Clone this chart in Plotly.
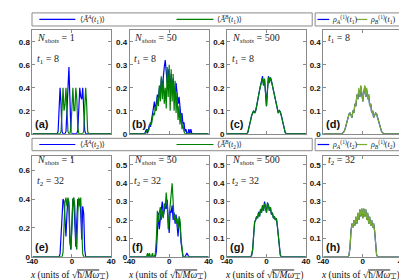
import plotly.graph_objects as go

W, H = 407, 280

# common x grid (units of sqrt(hbar/M w_perp)); values given for x = -26..26, zero at the +-40 ends
X_INNER = list(range(-26, 27))
X_GRID = [-40] + X_INNER + [40]

# ---------------- t1 = 8 ----------------
# (a) N_shots = 1
a_A = [0, 0, 0, 0, 0, 0, 0, 0, 0, 0, 0, 0, 0.02,
       0.25, 0.40, 0.25, 0.02, 0, 0, 0, 0.02, 0.20, 0.50, 0.58, 0.30, 0.03,
       0, 0, 0, 0, 0, 0, 0.03, 0.25, 0.40, 0.32, 0.30, 0.40, 0.25,
       0.03, 0, 0, 0, 0, 0, 0, 0, 0, 0, 0, 0, 0, 0]
a_B = [0, 0, 0, 0, 0, 0, 0, 0, 0, 0, 0, 0, 0,
       0, 0, 0.02, 0.25, 0.40, 0.20, 0.25, 0.40, 0.20, 0.02, 0, 0, 0.05,
       0.30, 0.40, 0.20, 0.20, 0.40, 0.30, 0.05, 0, 0, 0, 0, 0, 0.02,
       0.20, 0.40, 0.25, 0.02, 0, 0, 0, 0, 0, 0, 0, 0, 0, 0]
# (b) N_shots = 50
b_A = [0, 0, 0.01, 0.02, 0.0, 0.02, 0.04, 0.03, 0.06, 0.09, 0.12, 0.14, 0.10,
       0.13, 0.17, 0.15, 0.20, 0.18, 0.24, 0.20, 0.26, 0.29, 0.32, 0.27, 0.22, 0.28,
       0.24, 0.20, 0.26, 0.18, 0.24, 0.21, 0.16, 0.22, 0.18, 0.13, 0.16, 0.10, 0.07,
       0.09, 0.04, 0.05, 0.01, 0.02, 0.0, 0.0, 0.02, 0.0, 0.02, 0.0, 0, 0, 0]
b_B = [0, 0, 0, 0.01, 0.02, 0.01, 0.03, 0.05, 0.04, 0.07, 0.09, 0.08, 0.12,
       0.10, 0.16, 0.12, 0.21, 0.14, 0.25, 0.15, 0.24, 0.13, 0.20, 0.11, 0.29, 0.16,
       0.30, 0.10, 0.28, 0.14, 0.26, 0.10, 0.23, 0.09, 0.18, 0.06, 0.12, 0.04, 0.09,
       0.02, 0.04, 0.01, 0, 0, 0, 0, 0, 0, 0, 0, 0, 0, 0]
# (c) N_shots = 500
c_A = [0, 0, 0, 0, 0, 0, 0, 0.005, 0.02, 0.04, 0.06, 0.08, 0.095,
       0.10, 0.09, 0.10, 0.12, 0.15, 0.17, 0.19, 0.21, 0.23, 0.25, 0.21, 0.235, 0.18,
       0.12, 0.19, 0.25, 0.225, 0.245, 0.23, 0.21, 0.19, 0.17, 0.15, 0.12, 0.10, 0.09,
       0.10, 0.095, 0.08, 0.06, 0.04, 0.02, 0.005, 0, 0, 0, 0, 0, 0, 0]
c_B = [0, 0, 0, 0, 0, 0, 0, 0.005, 0.02, 0.04, 0.06, 0.08, 0.095,
       0.10, 0.09, 0.10, 0.12, 0.15, 0.17, 0.19, 0.21, 0.23, 0.24, 0.21, 0.24, 0.18,
       0.12, 0.19, 0.245, 0.22, 0.245, 0.23, 0.21, 0.19, 0.17, 0.15, 0.12, 0.10, 0.09,
       0.10, 0.095, 0.08, 0.06, 0.04, 0.02, 0.005, 0, 0, 0, 0, 0, 0, 0]
# (d) one-body densities
d_rhoA = [0, 0, 0, 0, 0, 0, 0.005, 0.01, 0.02, 0.04, 0.06, 0.07, 0.085,
          0.09, 0.08, 0.07, 0.10, 0.09, 0.13, 0.12, 0.17, 0.15, 0.19, 0.16, 0.205, 0.17,
          0.14, 0.18, 0.205, 0.16, 0.19, 0.15, 0.17, 0.12, 0.13, 0.09, 0.10, 0.07, 0.08,
          0.09, 0.085, 0.07, 0.06, 0.04, 0.02, 0.01, 0.005, 0, 0, 0, 0, 0, 0]
d_rhoB = [0, 0, 0, 0, 0, 0, 0.005, 0.01, 0.02, 0.04, 0.06, 0.07, 0.085,
          0.09, 0.08, 0.07, 0.10, 0.09, 0.13, 0.12, 0.17, 0.15, 0.20, 0.16, 0.21, 0.17,
          0.14, 0.18, 0.21, 0.16, 0.20, 0.15, 0.17, 0.12, 0.13, 0.09, 0.10, 0.07, 0.08,
          0.09, 0.085, 0.07, 0.06, 0.04, 0.02, 0.01, 0.005, 0, 0, 0, 0, 0, 0]

# ---------------- t2 = 32 ----------------
# (e) N_shots = 1
e_A = [0, 0, 0, 0, 0, 0, 0, 0, 0, 0, 0, 0, 0,
       0, 0.02, 0.15, 0.35, 0.40, 0.38, 0.25, 0.14, 0.30, 0.40, 0.35, 0.10, 0.05,
       0.30, 0.40, 0.38, 0.20, 0.07, 0.25, 0.40, 0.38, 0.40, 0.30, 0.12, 0.35, 0.30,
       0.05, 0, 0, 0, 0, 0, 0, 0, 0, 0, 0, 0, 0, 0]
e_B = [0, 0, 0, 0, 0, 0, 0, 0, 0, 0, 0, 0, 0,
       0, 0, 0, 0, 0.03, 0.20, 0.38, 0.41, 0.35, 0.41, 0.38, 0.15, 0.05,
       0.20, 0.40, 0.41, 0.35, 0.10, 0.05, 0.30, 0.41, 0.35, 0.41, 0.20, 0.02, 0,
       0, 0, 0, 0, 0, 0, 0, 0, 0, 0, 0, 0, 0, 0]
# (f) N_shots = 50
f_A = [0, 0, 0, 0, 0, 0, 0, 0, 0, 0, 0, 0, 0,
       0.03, 0.18, 0.24, 0.15, 0.22, 0.26, 0.30, 0.22, 0.25, 0.28, 0.26, 0.31, 0.20,
       0.13, 0.25, 0.24, 0.28, 0.20, 0.24, 0.18, 0.23, 0.16, 0.11, 0.20, 0.18, 0.08,
       0.02, 0, 0, 0, 0.01, 0.02, 0.01, 0, 0, 0, 0, 0, 0, 0]
f_B = [0, 0, 0, 0, 0.02, 0, 0.02, 0, 0, 0.02, 0, 0, 0.02,
       0.10, 0.25, 0.19, 0.24, 0.27, 0.20, 0.25, 0.21, 0.29, 0.27, 0.35, 0.28, 0.15,
       0.22, 0.30, 0.36, 0.40, 0.30, 0.20, 0.23, 0.18, 0.21, 0.15, 0.22, 0.20, 0.10,
       0.03, 0, 0, 0, 0, 0, 0, 0, 0, 0, 0, 0, 0, 0]
# (g) N_shots = 500
g_A = [0, 0, 0, 0, 0, 0, 0, 0, 0, 0, 0, 0.01, 0.04,
       0.12, 0.19, 0.20, 0.22, 0.21, 0.245, 0.22, 0.26, 0.24, 0.28, 0.25, 0.30, 0.27,
       0.24, 0.295, 0.28, 0.25, 0.27, 0.23, 0.24, 0.21, 0.22, 0.20, 0.21, 0.17, 0.12,
       0.04, 0.01, 0, 0, 0, 0, 0, 0, 0, 0, 0, 0, 0, 0]
g_B = [0, 0, 0, 0, 0, 0, 0, 0, 0, 0, 0, 0.01, 0.04,
       0.12, 0.19, 0.20, 0.22, 0.21, 0.24, 0.22, 0.26, 0.24, 0.28, 0.25, 0.29, 0.27,
       0.24, 0.29, 0.28, 0.25, 0.27, 0.23, 0.24, 0.21, 0.22, 0.20, 0.21, 0.17, 0.12,
       0.04, 0.01, 0, 0, 0, 0, 0, 0, 0, 0, 0, 0, 0, 0]
# (h) one-body densities
h_rhoA = [0, 0, 0, 0, 0, 0, 0, 0, 0, 0, 0, 0, 0.01,
          0.05, 0.14, 0.18, 0.16, 0.20, 0.17, 0.215, 0.18, 0.235, 0.20, 0.255, 0.22, 0.26,
          0.21, 0.26, 0.22, 0.255, 0.20, 0.235, 0.18, 0.215, 0.17, 0.20, 0.16, 0.18, 0.14,
          0.05, 0.01, 0, 0, 0, 0, 0, 0, 0, 0, 0, 0, 0, 0]
h_rhoB = [0, 0, 0, 0, 0, 0, 0, 0, 0, 0, 0, 0, 0.01,
          0.05, 0.14, 0.18, 0.16, 0.20, 0.17, 0.22, 0.18, 0.24, 0.20, 0.26, 0.22, 0.265,
          0.21, 0.265, 0.22, 0.26, 0.20, 0.24, 0.18, 0.22, 0.17, 0.20, 0.16, 0.18, 0.14,
          0.05, 0.01, 0, 0, 0, 0, 0, 0, 0, 0, 0, 0, 0, 0]

X_TICKS = [-40, 0, 40]
X_TICKTEXT = ["-40", "0", "40"]
YT_A = [0, 0.2, 0.4, 0.6, 0.8]
YT_BCD = [0, 0.1, 0.2, 0.3, 0.4]
YT_E = [0, 0.2, 0.4, 0.6]
YT_FGH = [0, 0.1, 0.2, 0.3, 0.4, 0.5]

BLUE = "#0000FF"
GREEN = "#008000"
YGREEN = "#77AC30"
GRAY = "#8a8a8a"
SERIF = "Liberation Serif, DejaVu Serif, serif"
SANS = "Liberation Sans, Arial, sans-serif"

COLS = [(19, 100), (119, 200), (219, 300), (318, 399)]
ROWS = [(22.6, 128), (150.4, 253.3)]

def full(v):
    assert len(v) == len(X_INNER), len(v)
    return [0.0] + list(v) + [0.0]

def fmt(v):
    return "0" if v == 0 else ("%g" % v)

N1 = "<i>N</i><sub><i>shots</i></sub> = 1"
N50 = "<i>N</i><sub><i>shots</i></sub> = 50"
N500 = "<i>N</i><sub><i>shots</i></sub> = 500"
T1 = "<i>t</i><sub>1</sub> = 8"
T2 = "<i>t</i><sub>2</sub> = 32"

panels = [
    dict(lab="(a)", r=0, c=0, ymax=0.9, yt=YT_A, s=[(a_A, BLUE), (a_B, GREEN)], txt=[N1, T1]),
    dict(lab="(b)", r=0, c=1, ymax=0.45, yt=YT_BCD, s=[(b_A, BLUE), (b_B, GREEN)], txt=[N50, T1]),
    dict(lab="(c)", r=0, c=2, ymax=0.45, yt=YT_BCD, s=[(c_A, BLUE), (c_B, GREEN)], txt=[N500, T1]),
    dict(lab="(d)", r=0, c=3, ymax=0.45, yt=YT_BCD, s=[(d_rhoA, BLUE), (d_rhoB, YGREEN)], txt=[T1]),
    dict(lab="(e)", r=1, c=0, ymax=0.7, yt=YT_E, s=[(e_A, BLUE), (e_B, GREEN)], txt=[N1, T2]),
    dict(lab="(f)", r=1, c=1, ymax=0.55, yt=YT_FGH, s=[(f_A, BLUE), (f_B, GREEN)], txt=[N50, T2]),
    dict(lab="(g)", r=1, c=2, ymax=0.55, yt=YT_FGH, s=[(g_A, BLUE), (g_B, GREEN)], txt=[N500, T2]),
    dict(lab="(h)", r=1, c=3, ymax=0.55, yt=YT_FGH, s=[(h_rhoA, BLUE), (h_rhoB, YGREEN)], txt=[T2]),
]

fig = go.Figure()
layout = {}
annotations = []
shapes = []

def px(x):
    return x / W

def py(y):
    return 1 - y / H

XTITLE = ("<i>x</i> (units of √<span style='text-decoration:overline'>"
          "ħ/<i>Mω</i><sub>⊥</sub></span>)")

for i, p in enumerate(panels, start=1):
    xl, xr = COLS[p["c"]]
    yt_, yb = ROWS[p["r"]]
    xa = "x" if i == 1 else f"x{i}"
    ya = "y" if i == 1 else f"y{i}"
    for vals, col in p["s"]:
        fig.add_trace(go.Scatter(x=X_GRID, y=full(vals), mode="lines",
                                 line=dict(color=col, width=1.2),
                                 xaxis=xa, yaxis=ya, showlegend=False,
                                 hoverinfo="skip"))
    bottom = p["r"] == 1
    layout["xaxis" if i == 1 else f"xaxis{i}"] = dict(
        domain=[px(xl), px(xr)], anchor=ya, range=[-40, 40],
        tickvals=X_TICKS, ticktext=X_TICKTEXT, showticklabels=bottom,
        ticks="inside", ticklen=3, tickcolor=GRAY, showline=True, linecolor=GRAY,
        linewidth=1, mirror="ticks", showgrid=False, zeroline=False,
        ticklabelstandoff=-3,
        tickfont=dict(family=SANS, size=8, color="#111", weight="bold"),
    )
    layout["yaxis" if i == 1 else f"yaxis{i}"] = dict(
        domain=[py(yb), py(yt_)], anchor=xa, range=[0, p["ymax"]],
        tickvals=p["yt"], ticktext=[fmt(v) for v in p["yt"]],
        ticks="inside", ticklen=3, tickcolor=GRAY, showline=True, linecolor=GRAY,
        linewidth=1, mirror="ticks", showgrid=False, zeroline=False,
        tickfont=dict(family=SANS, size=8, color="#111", weight="bold"),
    )
    if bottom:
        annotations.append(dict(text=XTITLE, xref="paper", yref="paper",
                                x=px((xl + xr) / 2 - 2), y=py(272), xanchor="center",
                                yanchor="middle", showarrow=False, height=12,
                                font=dict(family=SERIF, size=9.5, color="#111")))
    # in-panel texts
    ys = [31.5, 52] if p["r"] == 0 else [155.5, 177]
    for k, t in enumerate(p["txt"]):
        annotations.append(dict(text=t, xref="paper", yref="paper", x=px(xl + 2.5), y=py(ys[k]),
                                xanchor="left", yanchor="middle", showarrow=False,
                                font=dict(family=SERIF, size=10, color="#222")))
    annotations.append(dict(text="<b>%s</b>" % p["lab"], xref="paper", yref="paper",
                            x=px(xl + 0.5), y=py(yb - 9.5), xanchor="left", yanchor="middle",
                            showarrow=False, font=dict(family=SANS, size=11, color="#111")))

# legend boxes (one pair above each row)
LEG_ROWS = [(5, 18.3, "1"), (132.7, 145.3, "2")]
for (ly0, ly1, tn) in LEG_ROWS:
    cy = (ly0 + ly1) / 2
    shapes.append(dict(type="rect", xref="paper", yref="paper", x0=px(18.5), x1=px(306.5),
                       y0=py(ly1), y1=py(ly0), line=dict(color=GRAY, width=1), fillcolor="white"))
    shapes.append(dict(type="rect", xref="paper", yref="paper", x0=px(309.5), x1=px(399.5),
                       y0=py(ly1), y1=py(ly0), line=dict(color=GRAY, width=1), fillcolor="white"))
    entries = [
        (26, 63, BLUE, 66, "⟨<i>Ā</i><sup><i>A</i></sup>(<i>t</i><sub>%s</sub>)⟩" % tn),
        (167, 205, GREEN, 207, "⟨<i>Ā</i><sup><i>B</i></sup>(<i>t</i><sub>%s</sub>)⟩" % tn),
        (312, 324, BLUE, 325, "<i>ρ</i><sub><i>A</i></sub><sup>(1)</sup>(<i>t</i><sub>%s</sub>)" % tn),
        (352, 363, YGREEN, 364, "<i>ρ</i><sub><i>B</i></sub><sup>(1)</sup>(<i>t</i><sub>%s</sub>)" % tn),
    ]
    for x0, x1, col, tx, txt in entries:
        shapes.append(dict(type="line", xref="paper", yref="paper", x0=px(x0), x1=px(x1),
                           y0=py(cy), y1=py(cy), line=dict(color=col, width=1.2)))
        annotations.append(dict(text=txt, xref="paper", yref="paper", x=px(tx), y=py(cy),
                                xanchor="left", yanchor="middle", showarrow=False,
                                font=dict(family=SERIF, size=8, color="#222")))

fig.update_layout(width=W, height=H, margin=dict(l=0, r=0, t=0, b=0),
                  paper_bgcolor="white", plot_bgcolor="white",
                  annotations=annotations, shapes=shapes, **layout)
fig.write_html("out.html")
